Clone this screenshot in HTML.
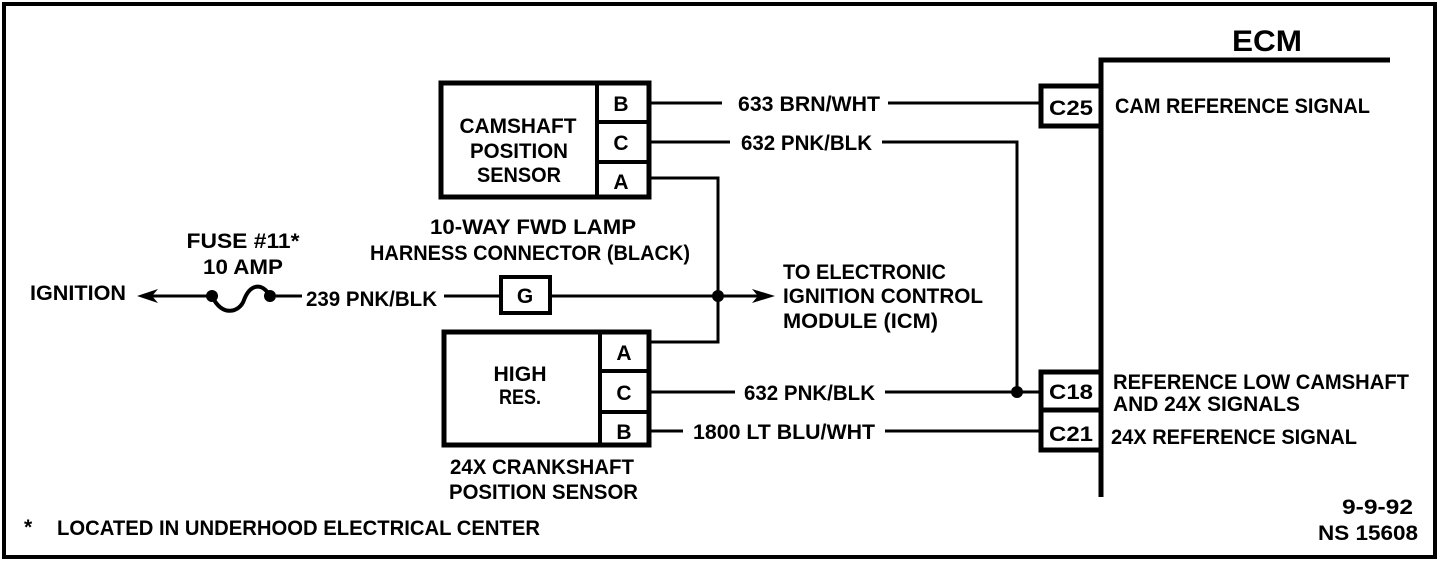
<!DOCTYPE html>
<html><head><meta charset="utf-8"><style>html,body{margin:0;padding:0;background:#fff}svg{display:block}</style></head>
<body>
<svg width="1440" height="562" viewBox="0 0 1440 562" xmlns="http://www.w3.org/2000/svg" font-family="Liberation Sans, sans-serif" font-weight="bold" font-size="21" fill="#000">
<rect x="4" y="4" width="1431" height="553" fill="none" stroke="#000" stroke-width="4"/>
<g fill="none" stroke="#000">
<rect x="441" y="83" width="208" height="114" stroke-width="5"/>
<line x1="597" y1="83" x2="597" y2="197" stroke-width="4"/>
<line x1="597" y1="122" x2="649" y2="122" stroke-width="4"/>
<line x1="597" y1="162" x2="649" y2="162" stroke-width="4"/>
<rect x="444" y="332" width="205" height="113" stroke-width="5"/>
<line x1="600" y1="332" x2="600" y2="445" stroke-width="4"/>
<line x1="600" y1="371" x2="649" y2="371" stroke-width="4"/>
<line x1="600" y1="412" x2="649" y2="412" stroke-width="4"/>
<rect x="501" y="277" width="49" height="36" stroke-width="4"/>
<polyline points="1101,497 1101,60 1390,60" stroke-width="5"/>
<rect x="1041" y="86" width="60" height="40" stroke-width="5"/>
<rect x="1041" y="372" width="60" height="38" stroke-width="5"/>
<rect x="1041" y="410" width="60" height="40" stroke-width="5"/>
<g stroke-width="3">
<line x1="651" y1="103" x2="722" y2="103"/><line x1="888" y1="103" x2="1041" y2="103"/>
<line x1="651" y1="142" x2="730" y2="142"/><polyline points="882,142 1017,142 1017,392"/>
<polyline points="651,178 718,178 718,342 651,342"/>
<line x1="651" y1="392" x2="735" y2="392"/><line x1="885" y1="392" x2="1041" y2="392"/>
<line x1="651" y1="431" x2="683" y2="431"/><line x1="885" y1="431" x2="1041" y2="431"/>
<line x1="444" y1="296" x2="501" y2="296"/><line x1="550" y1="296" x2="760" y2="296"/>
<line x1="276" y1="296" x2="302" y2="296"/>
<line x1="150" y1="296" x2="212" y2="296"/>
<path d="M212,296 C222,318 240,312 244,300 C250,284 262,282 270,296" stroke-width="4"/>
</g>
</g>
<circle cx="718" cy="296" r="6"/><circle cx="1017" cy="392" r="6"/>
<circle cx="212" cy="296" r="6"/><circle cx="270" cy="296" r="6"/>
<polygon points="137,296 158,289 152,296 158,303"/>
<polygon points="775,296 752,289 758,296 752,303"/>
<text x="1267" y="51" font-size="30" text-anchor="middle" textLength="70" lengthAdjust="spacingAndGlyphs">ECM</text>
<g text-anchor="middle">
<text x="518" y="133" textLength="117" lengthAdjust="spacingAndGlyphs">CAMSHAFT</text>
<text x="519" y="158" textLength="98" lengthAdjust="spacingAndGlyphs">POSITION</text>
<text x="519" y="182" textLength="84" lengthAdjust="spacingAndGlyphs">SENSOR</text>
<text x="621" y="111">B</text><text x="621" y="150">C</text><text x="621" y="189">A</text>
<text x="624" y="360">A</text><text x="624" y="400">C</text><text x="624" y="439">B</text>
<text x="525" y="303">G</text>
<text x="520" y="381" textLength="53" lengthAdjust="spacingAndGlyphs">HIGH</text>
<text x="520" y="404" textLength="42" lengthAdjust="spacingAndGlyphs">RES.</text>
<text x="243" y="248" textLength="113" lengthAdjust="spacingAndGlyphs">FUSE #11*</text>
<text x="243" y="274" textLength="80" lengthAdjust="spacingAndGlyphs">10 AMP</text>
<text x="1071" y="115" textLength="44" lengthAdjust="spacingAndGlyphs">C25</text>
<text x="1071" y="399" textLength="44" lengthAdjust="spacingAndGlyphs">C18</text>
<text x="1071" y="441" textLength="44" lengthAdjust="spacingAndGlyphs">C21</text>
</g>
<text x="430" y="234" textLength="206" lengthAdjust="spacingAndGlyphs">10-WAY FWD LAMP</text>
<text x="370" y="260" textLength="320" lengthAdjust="spacingAndGlyphs">HARNESS CONNECTOR (BLACK)</text>
<text x="30" y="300" textLength="96" lengthAdjust="spacingAndGlyphs">IGNITION</text>
<text x="306" y="306" textLength="131" lengthAdjust="spacingAndGlyphs">239 PNK/BLK</text>
<text x="738" y="111" textLength="142" lengthAdjust="spacingAndGlyphs">633 BRN/WHT</text>
<text x="741" y="150" textLength="131" lengthAdjust="spacingAndGlyphs">632 PNK/BLK</text>
<text x="744" y="400" textLength="131" lengthAdjust="spacingAndGlyphs">632 PNK/BLK</text>
<text x="693" y="439" textLength="182" lengthAdjust="spacingAndGlyphs">1800 LT BLU/WHT</text>
<text x="783" y="279" textLength="163" lengthAdjust="spacingAndGlyphs">TO ELECTRONIC</text>
<text x="783" y="303" textLength="200" lengthAdjust="spacingAndGlyphs">IGNITION CONTROL</text>
<text x="783" y="328" textLength="155" lengthAdjust="spacingAndGlyphs">MODULE (ICM)</text>
<text x="450" y="474" textLength="184" lengthAdjust="spacingAndGlyphs">24X CRANKSHAFT</text>
<text x="449" y="499" textLength="189" lengthAdjust="spacingAndGlyphs">POSITION SENSOR</text>
<text x="24" y="534">*</text>
<text x="57" y="535" textLength="483" lengthAdjust="spacingAndGlyphs">LOCATED IN UNDERHOOD ELECTRICAL CENTER</text>
<text x="1115" y="113" textLength="255" lengthAdjust="spacingAndGlyphs">CAM REFERENCE SIGNAL</text>
<text x="1113" y="389" textLength="296" lengthAdjust="spacingAndGlyphs">REFERENCE LOW CAMSHAFT</text>
<text x="1113" y="411" textLength="187" lengthAdjust="spacingAndGlyphs">AND 24X SIGNALS</text>
<text x="1111" y="444" textLength="246" lengthAdjust="spacingAndGlyphs">24X REFERENCE SIGNAL</text>
<text x="1413" y="514" text-anchor="end" textLength="71" lengthAdjust="spacingAndGlyphs">9-9-92</text>
<text x="1418" y="540" text-anchor="end" textLength="100" lengthAdjust="spacingAndGlyphs">NS 15608</text>
</svg>
</body></html>
